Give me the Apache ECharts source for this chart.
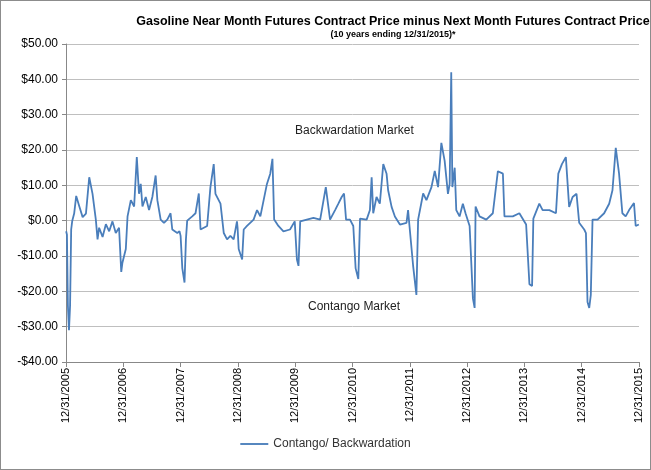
<!DOCTYPE html>
<html>
<head>
  <meta charset="UTF-8">
  <title>Gasoline Near Month minus Next Month</title>
  <script src="https://cdn.jsdelivr.net/npm/echarts/dist/echarts.min.js"></script>
  <style>
    html, body { margin: 0; padding: 0; background: #fff; }
    #main { width: 651px; height: 470px; box-sizing: border-box; border: 1px solid #8c8c8c; }
  </style>
</head>
<body>
  <div id="main"></div>
  <script>
    // observation: calendar year, day of that year, spread ($/bbl)
    var obsYear = [
      2006,2006,2006,2006,2006,2006,2006,2006,2006,2006,2006,2006,2006,2006,2006,2006,2006,2006,2006,2006,2006,2006,2006,2006,2006,
      2007,2007,2007,2007,2007,2007,2007,2007,2007,2007,2007,2007,2007,2007,2007,2007,2007,2007,2007,2007,2007,
      2008,2008,2008,2008,2008,2008,2008,2008,2008,2008,2008,2008,2008,2008,2008,2008,2008,2008,2008,
      2009,2009,2009,2009,2009,2009,2009,2009,2009,2009,2009,2009,2009,2009,2009,
      2010,2010,2010,2010,2010,2010,2010,2010,2010,2010,2010,2010,2010,2010,
      2011,2011,2011,2011,2011,2011,2011,2011,2011,2011,2011,2011,2011,2011,2011,2011,2011,2011,2011,
      2012,2012,2012,2012,2012,2012,2012,2012,2012,2012,2012,2012,2012,2012,2012,2012,2012,2012,2012,
      2013,2013,2013,2013,2013,2013,2013,2013,2013,2013,2013,2013,
      2014,2014,2014,2014,2014,2014,2014,2014,2014,2014,2014,2014,2014,2014,2014,
      2015,2015,2015,2015,2015,2015,2015,2015,2015,2015,2015,2015,2015,2015,2015,2015,2015,2015
    ];
    var obsDay = [
      1,6,12,19,26,33,40,52,65,85,106,127,148,169,190,201,211,233,254,275,296,317,338,352,359,
      16,27,48,69,86,100,111,122,143,164,185,206,217,238,259,280,301,312,344,358,365,
      11,25,34,42,74,95,116,127,169,190,211,222,254,275,296,317,338,359,363,
      5,27,37,58,100,122,143,185,206,220,231,258,290,332,362,
      11,21,32,74,116,159,195,222,254,275,296,311,324,349,
      5,20,37,48,90,111,122,132,153,174,196,217,227,249,270,302,344,354,363,
      21,42,53,85,106,138,159,180,201,222,243,254,264,271,286,296,317,338,355,
      16,37,48,54,79,122,164,196,228,238,291,333,
      11,32,49,57,95,116,159,201,216,239,264,285,307,332,349,
      16,27,37,48,58,69,101,143,175,196,217,238,259,280,302,333,344,364
    ];
    var obsValue = [
      -3,-4,-24,-31,-24,-2.5,0,2,7,4,1,2,12.3,7.6,0.3,-5.3,-2,-4.6,-1,-3,-0.2,-3.5,-2,-14.5,-12,
      -8,1.2,5.8,4,18,7.6,10.4,4,6.7,3,6.7,12.8,5.8,0.3,-0.6,0.3,2.1,-2.5,-3.5,-3,-4.3,
      -13.5,-17.5,-5.3,0,1.2,2.1,7.7,-2.5,-1.5,9.5,16,7.6,4.8,-3.5,-5.3,-4.3,-5.3,-0.2,-2,
      -8,-11,-2.5,-1.5,0.3,3,1.2,10.4,13.3,17.5,0.3,-1.5,-3,-2.5,-0.2,
      -11,-12.8,-0.2,0.3,0.8,0.3,9.5,0.3,3,4.8,6.7,7.7,0.3,0.3,
      -1.5,-13.5,-16.5,0.6,0.3,3,12.3,2.1,6.7,4.8,16,13.3,8.6,3.9,1.2,-1.1,-0.6,3,-1.5,
      -12.7,-21,0.3,7.7,5.8,9.5,14.1,9.5,22,16.9,7.6,10.4,42,9.5,15,3,1.2,4.8,2.1,
      -1.5,-22,-24.7,4,1.2,0.3,2.1,14,13.3,1.2,1.2,2.1,
      -1.1,-18,-18.5,0.6,4.8,3,3,2.1,13.3,16,18,3.9,6.7,7.6,-0.6,
      -2.5,-3.5,-23,-24.7,-21,0.3,0.3,2.1,4.8,8.6,20.6,13.3,2.1,1.2,3,5,-1.5,-1.1
    ];
    var yTicks = [-40, -30, -20, -10, 0, 10, 20, 30, 40, 50];

    // years elapsed since 12/31/2005
    var points = obsValue.map(function (v, i) {
      return [(obsYear[i] - 2006) + obsDay[i] / 365, v];
    });

    function money(v) {
      return (v < 0 ? '-$' : '$') + Math.abs(v).toFixed(2);
    }

    var chart = echarts.init(document.getElementById('main'));
    chart.setOption({
      backgroundColor: '#fff',
      textStyle: { fontFamily: 'Liberation Sans' },
      title: {
        text: 'Gasoline Near Month Futures Contract Price minus Next Month Futures Contract Price',
        subtext: '(10 years ending 12/31/2015)*',
        left: 387, top: 9, textAlign: 'center', itemGap: 2,
        textStyle: { fontSize: 12.5, fontWeight: 'bold', color: '#000' },
        subtextStyle: { fontSize: 9, fontWeight: 'bold', color: '#000' }
      },
      legend: {
        bottom: 14, left: 'center',
        icon: 'path://M0,5 L30,5 L30,7 L0,7 Z',
        itemWidth: 28, itemHeight: 4,
        textStyle: { fontSize: 12, color: '#333' },
        data: ['Contango/ Backwardation']
      },
      grid: { left: 65, right: 11, top: 43, bottom: 107 },
      xAxis: {
        type: 'value', min: 0, max: 10, interval: 1,
        axisLine: { onZero: false, lineStyle: { color: '#888' } },
        axisTick: { show: true, length: 5, lineStyle: { color: '#888' } },
        splitLine: { show: false },
        axisLabel: {
          rotate: 90, fontSize: 11, color: '#000', margin: 6,
          formatter: function (v) { return '12/31/' + (2005 + v); }
        }
      },
      yAxis: {
        type: 'value', min: yTicks[0], max: yTicks[yTicks.length - 1], interval: 10,
        axisLine: { show: true, lineStyle: { color: '#888' } },
        axisTick: { show: true, length: 4, lineStyle: { color: '#888' } },
        splitLine: { lineStyle: { color: '#bfbfbf' } },
        axisLabel: { fontSize: 12, color: '#000', formatter: money }
      },
      graphic: [
        { type: 'text', left: 294, top: 124, style: { text: 'Backwardation Market', fontSize: 12, fill: '#222', fontFamily: 'Liberation Sans' } },
        { type: 'text', left: 307, top: 300, style: { text: 'Contango Market', fontSize: 12, fill: '#222', fontFamily: 'Liberation Sans' } }
      ],
      series: [{
        name: 'Contango/ Backwardation',
        type: 'line',
        data: points,
        showSymbol: false,
        lineStyle: { color: '#4a7ebb', width: 1.8 },
        itemStyle: { color: '#4a7ebb' },
        animation: false
      }]
    });
  </script>
</body>
</html>
